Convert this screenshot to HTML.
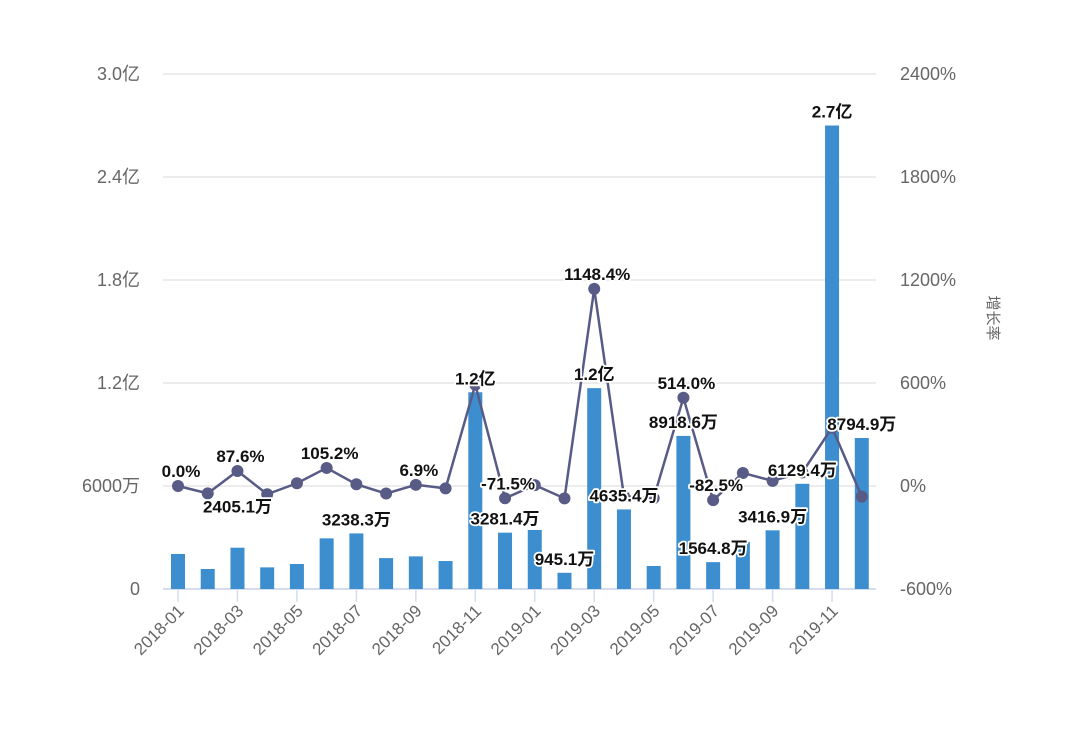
<!DOCTYPE html>
<html><head><meta charset="utf-8"><style>
html,body{margin:0;padding:0;background:#fff;}
svg{display:block;font-family:"Liberation Sans","Noto Sans CJK SC",sans-serif;}
.lbl{font-weight:bold;font-size:17px;fill:#111;stroke:#fff;stroke-width:3.5px;paint-order:stroke;stroke-linejoin:round;}
</style></head><body>
<svg id="chart" width="1080" height="734" viewBox="0 0 1080 734"></svg>
<script>
const months=["2018-01","2018-02","2018-03","2018-04","2018-05","2018-06","2018-07","2018-08","2018-09","2018-10","2018-11","2018-12","2019-01","2019-02","2019-03","2019-04","2019-05","2019-06","2019-07","2019-08","2019-09","2019-10","2019-11","2019-12"];
const sales=[2040,1165,2405.1,1260,1456,2950,3238.3,1800,1900,1630,11460,3281.4,3440,945.1,11700,4635.4,1340,8918.6,1564.8,2750,3416.9,6129.4,27000,8794.9];
const growth=[0,-43,87.6,-48,16,105.2,10,-44,6.9,-14,590,-71.5,5,-72,1148.4,-60,-71,514,-82.5,76,30,79,340,-62];
const salesLabels=[null,null,"2405.1万",null,null,null,"3238.3万",null,null,null,"1.2亿","3281.4万",null,"945.1万","1.2亿","4635.4万",null,"8918.6万","1564.8万",null,"3416.9万","6129.4万","2.7亿","8794.9万"];
const growthLabels=["0.0%",null,"87.6%",null,null,"105.2%",null,null,"6.9%",null,null,"-71.5%",null,null,"1148.4%",null,null,"514.0%","-82.5%",null,null,null,null,null];
const leftTicks=[0,6000,12000,18000,24000,30000];
const leftTickLabels=["0","6000万","1.2亿","1.8亿","2.4亿","3.0亿"];
const rightTicks=[-600,0,600,1200,1800,2400];
const rightTickLabels=["-600%","0%","600%","1200%","1800%","2400%"];

const NS="http://www.w3.org/2000/svg";
const svg=document.getElementById('chart');
const y0=589,yTop=74,x0=178,dx=29.73;
const yL=v=>y0-(v/30000)*(y0-yTop);
const yR=v=>y0-((v+600)/3000)*(y0-yTop);
const xS=i=>x0+i*dx;
function mk(tag,attrs,txt){const e=document.createElementNS(NS,tag);for(const k in attrs)e.setAttribute(k,attrs[k]);if(txt!=null)e.textContent=txt;svg.appendChild(e);return e;}

leftTicks.forEach((t,i)=>{
  if(i>0){const g=mk('line',{x1:163,x2:876,y1:yL(t),y2:yL(t),stroke:'#e6e6e6','stroke-width':1.5});
  
  }
  const l=mk('text',{x:140,y:yL(t)+6,'text-anchor':'end','font-size':18,fill:'#666'},leftTickLabels[i]);
  
  
});
rightTicks.forEach((t,i)=>{
  const l=mk('text',{x:900,y:yR(t)+6,'font-size':18,fill:'#666'},rightTickLabels[i]);
  
  
});
const title=mk('text',{x:0,y:0,'font-size':15,fill:'#666','text-anchor':'middle',transform:'translate(988,318) rotate(90)'},'增长率');



const ax=mk('line',{x1:163,x2:876,y1:y0,y2:y0,stroke:'#d6dcef','stroke-width':2});



sales.forEach((v,i)=>{
  const b=mk('rect',{x:xS(i)-7,y:yL(v),width:14,height:y0-yL(v),fill:'#3d8ecf'});
  
  
});
months.forEach((m,i)=>{
  if(i%2)return;
  const t=mk('line',{x1:xS(i),x2:xS(i),y1:y0,y2:y0+13,stroke:'#d6dcef','stroke-width':1.5});
  
  
  const l=mk('text',{x:0,y:0,'font-size':17,fill:'#666','text-anchor':'end',transform:`translate(${xS(i)+7},${y0+23}) rotate(-45)`},m);
  
  
});
const pts=growth.map((v,i)=>xS(i)+','+yR(v)).join(' ');
const line=mk('polyline',{points:pts,fill:'none',stroke:'#575b85','stroke-width':2.5});


growth.forEach((v,i)=>{
  const c=mk('circle',{cx:xS(i),cy:yR(v),r:6,fill:'#575b85'});
  
  
});
salesLabels.forEach((s,i)=>{
  if(!s)return;
  const off=(i===2)?41:14;
  const l=mk('text',{x:xS(i),y:yL(sales[i])-off+6,'text-anchor':'middle',class:'lbl'},s);
  
  
});
growthLabels.forEach((s,i)=>{
  if(!s)return;
  const l=mk('text',{x:xS(i)+3,y:yR(growth[i])-15+6,'text-anchor':'middle',class:'lbl'},s);
  
  
});
</script>
</body></html>
